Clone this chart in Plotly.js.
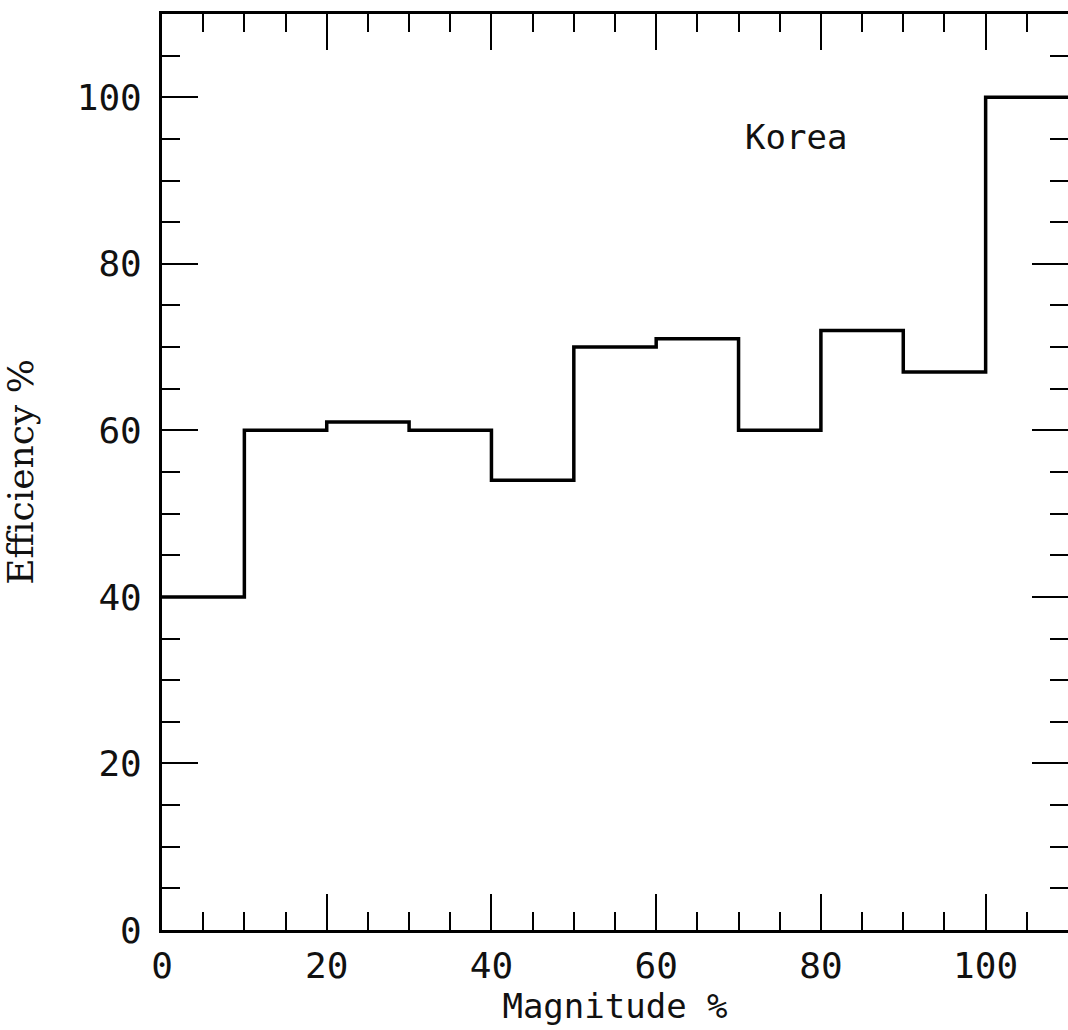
<!DOCTYPE html>
<html>
<head>
<meta charset="utf-8">
<script src="https://cdn.plot.ly/plotly-3.0.1.min.js"></script>
<style>html,body{margin:0;padding:0;background:#fff;}#chart{width:1068px;height:1030px;}</style>
</head>
<body>
<div id="chart"></div>
<script>
// Bin left edges (Magnitude %) and efficiency values (%)
const binEdges = [0, 10, 20, 30, 40, 50, 60, 70, 80, 90, 100, 110];
const efficiency = [40, 60, 61, 60, 54, 70, 71, 60, 72, 67, 100];
const xTickVals = [0, 20, 40, 60, 80, 100];
const yTickVals = [0, 20, 40, 60, 80, 100];
const label = "Korea";

// step line: repeat last value at the final edge
const stepY = efficiency.concat([efficiency[efficiency.length - 1]]);

const font = "DejaVu Sans Mono, monospace";

const trace = {
  x: binEdges,
  y: stepY,
  type: "scatter",
  mode: "lines",
  line: {shape: "hv", color: "#000", width: 3.5},
  hoverinfo: "skip",
  showlegend: false
};

const axisCommon = {
  showgrid: false,
  zeroline: false,
  showline: true,
  linecolor: "#000",
  linewidth: 3,
  mirror: "ticks",
  ticks: "inside",
  tickcolor: "#000",
  tickwidth: 2,
  ticklen: 36,
  tickfont: {family: font, size: 36, color: "#111"},
  minor: {dtick: 5, ticks: "inside", ticklen: 18, tickwidth: 2, tickcolor: "#000"}
};

const layout = {
  width: 1068,
  height: 1030,
  margin: {l: 162, r: 0, t: 14, b: 100},
  paper_bgcolor: "#fff",
  plot_bgcolor: "#fff",
  xaxis: Object.assign({}, axisCommon, {
    range: [0, 110],
    tickvals: xTickVals,
    ticktext: xTickVals.map(String),
    ticklabelstandoff: 2,
    title: {text: "Magnitude %", font: {family: font, size: 34, color: "#111"}, standoff: 2}
  }),
  yaxis: Object.assign({}, axisCommon, {
    range: [0, 110],
    tickvals: yTickVals,
    ticktext: yTickVals.map(String),
    ticklabelstandoff: 10,
    title: {text: "Efficiency %", font: {family: "DejaVu Serif, serif", size: 36, color: "#111"}, standoff: 36}
  }),
  annotations: [{
    x: 77, y: 95.2, xref: "x", yref: "y",
    text: label, showarrow: false,
    font: {family: font, size: 34, color: "#111"}
  }]
};

Plotly.newPlot("chart", [trace], layout, {displayModeBar: false, staticPlot: true});
</script>
</body>
</html>
